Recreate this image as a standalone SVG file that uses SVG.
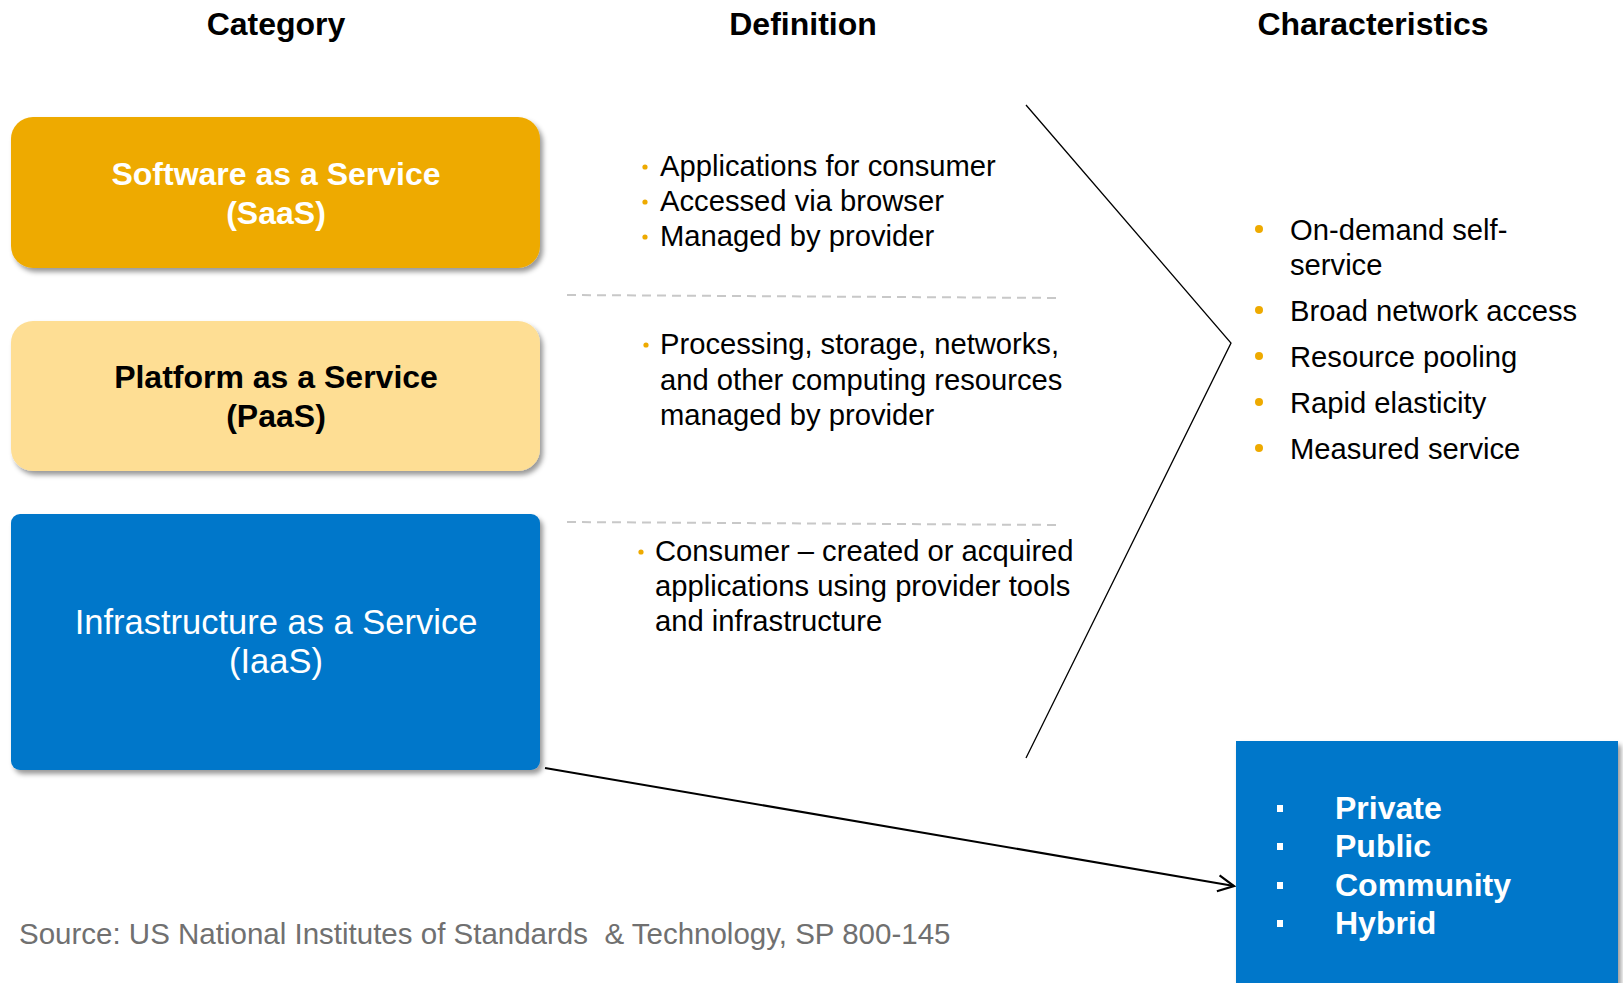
<svg xmlns="http://www.w3.org/2000/svg" width="1623" height="983" viewBox="0 0 1623 983">
<defs>
<style>
.hdr{font-family:"Liberation Sans",Arial,sans-serif;font-weight:bold;font-size:32px;fill:#000;text-anchor:middle}
.cat{font-family:"Liberation Sans",Arial,sans-serif;font-size:32px;text-anchor:middle}
.cat.iaas{font-size:34.5px;fill:#fff}
.def{font-family:"Liberation Sans",Arial,sans-serif;font-size:29.2px;fill:#000}
.dep{font-family:"Liberation Sans",Arial,sans-serif;font-size:32px;font-weight:bold;fill:#fff}
.src{font-family:"Liberation Sans",Arial,sans-serif;font-size:29.5px;fill:#707070;white-space:pre}
.dash{stroke:#C8C8C8;stroke-width:2;stroke-dasharray:9 6;fill:none}
.sdot{fill:#EEAA00}
</style>
<filter id="sh" x="-5%" y="-5%" width="115%" height="120%">
<feDropShadow dx="3" dy="4" stdDeviation="2.5" flood-color="#000" flood-opacity="0.4"/>
</filter>
<marker id="arr" viewBox="0 0 20 20" refX="18" refY="10" markerWidth="20" markerHeight="20" markerUnits="userSpaceOnUse" orient="auto">
<path d="M2,2 L18,10 L2,18" fill="none" stroke="#000" stroke-width="2.2"/>
</marker>
</defs>
<rect width="1623" height="983" fill="#fff"/>

<g id="headers">
<text class="hdr" x="276" y="35">Category</text>
<text class="hdr" x="803" y="35">Definition</text>
<text class="hdr" x="1373" y="35">Characteristics</text>
</g>

<g id="saas">
<rect x="11" y="117" width="529" height="151" rx="22" fill="#EEAA00" filter="url(#sh)"/>
<text class="cat" x="276" y="185" fill="#fff" font-weight="bold">Software as a Service</text>
<text class="cat" x="276" y="224" fill="#fff" font-weight="bold">(SaaS)</text>
</g>

<g id="paas">
<rect x="11" y="321" width="529" height="150" rx="22" fill="#FEDE94" filter="url(#sh)"/>
<text class="cat" x="276" y="388" fill="#000" font-weight="bold">Platform as a Service</text>
<text class="cat" x="276" y="427" fill="#000" font-weight="bold">(PaaS)</text>
</g>

<g id="iaas">
<rect x="11" y="514" width="529" height="256" rx="9" fill="#0077CA" filter="url(#sh)"/>
<text class="cat iaas" x="276" y="634">Infrastructure as a Service</text>
<text class="cat iaas" x="276" y="673">(IaaS)</text>
</g>

<g id="def-saas">
<circle class="sdot" cx="645" cy="167" r="2.6"/>
<circle class="sdot" cx="645" cy="202" r="2.6"/>
<circle class="sdot" cx="645" cy="237" r="2.6"/>
<text class="def" x="660" y="176">Applications for consumer</text>
<text class="def" x="660" y="211">Accessed via browser</text>
<text class="def" x="660" y="246">Managed by provider</text>
</g>

<g id="def-paas">
<circle class="sdot" cx="646" cy="345" r="2.6"/>
<text class="def" x="660" y="354">Processing, storage, networks,</text>
<text class="def" x="660" y="390">and other computing resources</text>
<text class="def" x="660" y="425">managed by provider</text>
</g>

<g id="def-iaas">
<circle class="sdot" cx="641" cy="552" r="2.6"/>
<text class="def" x="655" y="561">Consumer – created or acquired</text>
<text class="def" x="655" y="596">applications using provider tools</text>
<text class="def" x="655" y="631">and infrastructure</text>
</g>

<g id="separators">
<line class="dash" x1="567" y1="295" x2="1062" y2="298"/>
<line class="dash" x1="567" y1="522" x2="1062" y2="525"/>
</g>

<g id="characteristics">
<circle class="sdot" cx="1259" cy="229" r="4"/>
<circle class="sdot" cx="1259" cy="310" r="4"/>
<circle class="sdot" cx="1259" cy="356" r="4"/>
<circle class="sdot" cx="1259" cy="402" r="4"/>
<circle class="sdot" cx="1259" cy="448" r="4"/>
<text class="def" x="1290" y="240">On-demand self-</text>
<text class="def" x="1290" y="275">service</text>
<text class="def" x="1290" y="321">Broad network access</text>
<text class="def" x="1290" y="367">Resource pooling</text>
<text class="def" x="1290" y="413">Rapid elasticity</text>
<text class="def" x="1290" y="459">Measured service</text>
</g>

<g id="deployment">
<rect x="1236" y="741" width="382" height="250" fill="#0077CA" filter="url(#sh)"/>
<rect x="1277" y="805" width="6" height="7" fill="#fff"/>
<rect x="1277" y="843" width="6" height="7" fill="#fff"/>
<rect x="1277" y="882" width="6" height="7" fill="#fff"/>
<rect x="1277" y="920" width="6" height="7" fill="#fff"/>
<text class="dep" x="1335" y="819">Private</text>
<text class="dep" x="1335" y="857">Public</text>
<text class="dep" x="1335" y="896">Community</text>
<text class="dep" x="1335" y="934">Hybrid</text>
</g>

<g id="connectors">
<polyline points="1026,105 1231,343 1026,758" fill="none" stroke="#000" stroke-width="1.3"/>
<line x1="545" y1="768" x2="1234" y2="886" stroke="#000" stroke-width="2.2" marker-end="url(#arr)"/>
</g>

<g id="source">
<text class="src" x="19" y="944" xml:space="preserve">Source: US National Institutes of Standards  &amp; Technology, SP 800-145</text>
</g>
</svg>
